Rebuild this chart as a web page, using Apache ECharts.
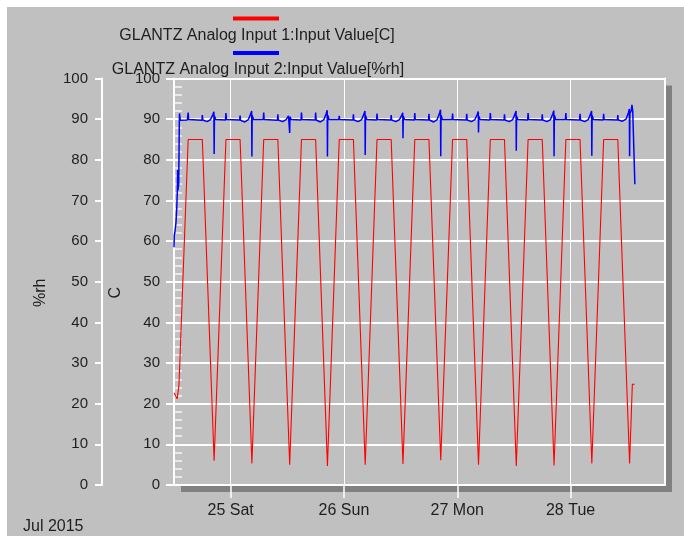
<!DOCTYPE html>
<html>
<head>
<meta charset="utf-8">
<script src="https://cdn.jsdelivr.net/npm/echarts@6/dist/echarts.min.js"></script>
<style>
  html, body { margin: 0; padding: 0; background: #ffffff; }
  #bg { position: absolute; left: 7px; top: 7px; width: 677px; height: 529px; background: #c0c0c0; }
  #chart { position: absolute; left: 0; top: 0; width: 684px; height: 536px; }
</style>
</head>
<body>
<div id="bg"></div>
<div id="chart"></div>
<script>
// ---------------- DATA ----------------
const seriesNames = [
  'GLANTZ Analog Input 1:Input Value[C]',
  'GLANTZ Analog Input 2:Input Value[%rh]'
];
const timeBase = '2015-07-24 00:00';
const xRange = ['2015-07-24 12:00', '2015-07-28 20:00'];
const dayTicks = ['2015-07-25 00:00', '2015-07-26 00:00', '2015-07-27 00:00', '2015-07-28 00:00'];
const dayLabels = ['25 Sat', '26 Sun', '27 Mon', '28 Tue'];
const monthLabel = 'Jul 2015';
const yTicks = [0, 10, 20, 30, 40, 50, 60, 70, 80, 90, 100];

// Input 1 (C), red
const redSeries = [
  ['2015-07-24 12:00', 22.7], ['2015-07-24 12:40', 21.2], ['2015-07-24 13:03', 24.5],
  ['2015-07-24 15:00', 85], ['2015-07-24 18:00', 85], ['2015-07-24 20:30', 6.0],
  ['2015-07-24 23:00', 85], ['2015-07-25 02:00', 85], ['2015-07-25 04:30', 5.3],
  ['2015-07-25 07:00', 85], ['2015-07-25 10:00', 85], ['2015-07-25 12:30', 5.0],
  ['2015-07-25 15:00', 85], ['2015-07-25 18:00', 85], ['2015-07-25 20:30', 4.7],
  ['2015-07-25 23:00', 85], ['2015-07-26 02:00', 85], ['2015-07-26 04:30', 5.0],
  ['2015-07-26 07:00', 85], ['2015-07-26 10:00', 85], ['2015-07-26 12:30', 5.2],
  ['2015-07-26 15:00', 85], ['2015-07-26 18:00', 85], ['2015-07-26 20:30', 6.1],
  ['2015-07-26 23:00', 85], ['2015-07-27 02:00', 85], ['2015-07-27 04:30', 5.0],
  ['2015-07-27 07:00', 85], ['2015-07-27 10:00', 85], ['2015-07-27 12:30', 4.7],
  ['2015-07-27 15:00', 85], ['2015-07-27 18:00', 85], ['2015-07-27 20:30', 4.8],
  ['2015-07-27 23:00', 85], ['2015-07-28 02:00', 85], ['2015-07-28 04:30', 5.3],
  ['2015-07-28 07:00', 85], ['2015-07-28 10:00', 85], ['2015-07-28 12:30', 5.3],
  ['2015-07-28 13:05', 24.8], ['2015-07-28 13:35', 24.8]
];

// Input 2 (%rh), blue
const blueSeries = [
  ['2015-07-24 12:00', 58.5], ['2015-07-24 12:04', 61.5], ['2015-07-24 12:10', 62.0],
  ['2015-07-24 12:25', 64.5], ['2015-07-24 12:35', 68.0], ['2015-07-24 12:42', 72.0],
  ['2015-07-24 12:46', 77.5], ['2015-07-24 12:50', 72.5], ['2015-07-24 13:00', 74.0],
  ['2015-07-24 13:08', 90.0], ['2015-07-24 13:10', 91.4], ['2015-07-24 13:20', 89.7],
  ['2015-07-24 14:50', 89.8], ['2015-07-24 15:00', 91.6], ['2015-07-24 15:06', 89.9],
  ['2015-07-24 17:55', 89.7], ['2015-07-24 18:00', 91.0], ['2015-07-24 18:06', 89.8],
  ['2015-07-24 19:00', 89.4], ['2015-07-24 19:45', 89.9], ['2015-07-24 20:15', 91.2],
  ['2015-07-24 20:27', 91.8], ['2015-07-24 20:30', 81.4], ['2015-07-24 20:34', 90.8],
  ['2015-07-24 20:50', 89.9], ['2015-07-24 22:55', 89.8], ['2015-07-24 23:00', 91.5],
  ['2015-07-24 23:06', 89.9], ['2015-07-25 01:55', 89.8], ['2015-07-25 02:00', 90.9],
  ['2015-07-25 02:06', 89.7], ['2015-07-25 03:00', 89.3], ['2015-07-25 03:45', 89.9],
  ['2015-07-25 04:15', 91.3], ['2015-07-25 04:27', 92.0], ['2015-07-25 04:30', 80.8],
  ['2015-07-25 04:34', 90.9], ['2015-07-25 04:50', 89.9], ['2015-07-25 06:55', 89.9],
  ['2015-07-25 07:00', 91.6], ['2015-07-25 07:06', 89.9], ['2015-07-25 09:55', 89.7],
  ['2015-07-25 10:00', 91.2], ['2015-07-25 10:06', 89.8], ['2015-07-25 11:00', 89.4],
  ['2015-07-25 11:45', 89.9], ['2015-07-25 12:15', 90.8], ['2015-07-25 12:27', 91.2],
  ['2015-07-25 12:30', 86.6], ['2015-07-25 12:34', 90.6], ['2015-07-25 12:50', 89.9],
  ['2015-07-25 14:55', 89.8], ['2015-07-25 15:00', 91.6], ['2015-07-25 15:06', 89.9],
  ['2015-07-25 17:55', 89.8], ['2015-07-25 18:00', 91.6], ['2015-07-25 18:06', 89.8],
  ['2015-07-25 19:00', 89.3], ['2015-07-25 19:45', 89.9], ['2015-07-25 20:15', 91.4],
  ['2015-07-25 20:27', 92.2], ['2015-07-25 20:30', 80.8], ['2015-07-25 20:34', 91.0],
  ['2015-07-25 20:50', 89.9], ['2015-07-25 22:55', 89.9], ['2015-07-25 23:00', 90.8],
  ['2015-07-25 23:06', 89.9], ['2015-07-26 01:55', 89.8], ['2015-07-26 02:00', 91.2],
  ['2015-07-26 02:06', 89.8], ['2015-07-26 03:00', 89.4], ['2015-07-26 03:45', 89.9],
  ['2015-07-26 04:15', 91.3], ['2015-07-26 04:27', 92.0], ['2015-07-26 04:30', 81.2],
  ['2015-07-26 04:34', 90.9], ['2015-07-26 04:50', 89.9], ['2015-07-26 06:55', 89.8],
  ['2015-07-26 07:00', 91.4], ['2015-07-26 07:06', 89.9], ['2015-07-26 09:55', 89.8],
  ['2015-07-26 10:00', 91.0], ['2015-07-26 10:06', 89.8], ['2015-07-26 11:00', 89.4],
  ['2015-07-26 11:45', 89.9], ['2015-07-26 12:15', 91.0], ['2015-07-26 12:27', 91.6],
  ['2015-07-26 12:30', 85.3], ['2015-07-26 12:34', 90.7], ['2015-07-26 12:50', 89.9],
  ['2015-07-26 14:55', 89.8], ['2015-07-26 15:00', 91.5], ['2015-07-26 15:06', 89.9],
  ['2015-07-26 17:55', 89.8], ['2015-07-26 18:00', 91.3], ['2015-07-26 18:06', 89.8],
  ['2015-07-26 19:00', 89.3], ['2015-07-26 19:45', 89.9], ['2015-07-26 20:15', 91.5],
  ['2015-07-26 20:27', 92.3], ['2015-07-26 20:30', 80.9], ['2015-07-26 20:34', 91.0],
  ['2015-07-26 20:50', 89.9], ['2015-07-26 22:55', 89.9], ['2015-07-26 23:00', 91.4],
  ['2015-07-26 23:06', 89.9], ['2015-07-27 01:55', 89.8], ['2015-07-27 02:00', 91.3],
  ['2015-07-27 02:06', 89.8], ['2015-07-27 03:00', 89.4], ['2015-07-27 03:45', 89.9],
  ['2015-07-27 04:15', 91.2], ['2015-07-27 04:27', 91.9], ['2015-07-27 04:30', 86.7],
  ['2015-07-27 04:34', 90.7], ['2015-07-27 04:50', 89.9], ['2015-07-27 06:55', 89.8],
  ['2015-07-27 07:00', 91.5], ['2015-07-27 07:06', 89.9], ['2015-07-27 09:55', 89.8],
  ['2015-07-27 10:00', 91.2], ['2015-07-27 10:06', 89.8], ['2015-07-27 11:00', 89.4],
  ['2015-07-27 11:45', 89.9], ['2015-07-27 12:15', 91.3], ['2015-07-27 12:27', 92.0],
  ['2015-07-27 12:30', 82.2], ['2015-07-27 12:34', 90.8], ['2015-07-27 12:50', 89.9],
  ['2015-07-27 14:55', 89.8], ['2015-07-27 15:00', 91.5], ['2015-07-27 15:06', 89.9],
  ['2015-07-27 17:55', 89.8], ['2015-07-27 18:00', 91.2], ['2015-07-27 18:06', 89.8],
  ['2015-07-27 19:00', 89.4], ['2015-07-27 19:45', 89.9], ['2015-07-27 20:15', 91.4],
  ['2015-07-27 20:27', 92.1], ['2015-07-27 20:30', 80.9], ['2015-07-27 20:34', 91.0],
  ['2015-07-27 20:50', 89.9], ['2015-07-27 22:55', 89.9], ['2015-07-27 23:00', 91.5],
  ['2015-07-27 23:06', 89.9], ['2015-07-28 01:55', 89.8], ['2015-07-28 02:00', 91.3],
  ['2015-07-28 02:06', 89.8], ['2015-07-28 03:00', 89.4], ['2015-07-28 03:45', 89.9],
  ['2015-07-28 04:15', 91.3], ['2015-07-28 04:27', 92.0], ['2015-07-28 04:30', 81.0],
  ['2015-07-28 04:34', 90.9], ['2015-07-28 04:50', 89.9], ['2015-07-28 06:55', 89.8],
  ['2015-07-28 07:00', 91.3], ['2015-07-28 07:06', 89.9], ['2015-07-28 09:55', 89.8],
  ['2015-07-28 10:00', 91.0], ['2015-07-28 10:06', 89.8], ['2015-07-28 11:00', 89.5],
  ['2015-07-28 11:45', 90.0], ['2015-07-28 12:15', 91.6], ['2015-07-28 12:27', 92.5],
  ['2015-07-28 12:30', 80.9], ['2015-07-28 12:34', 91.5], ['2015-07-28 12:50', 92.0],
  ['2015-07-28 13:00', 93.5], ['2015-07-28 13:10', 92.0], ['2015-07-28 13:37', 74.0]
];

// ---------------- HELPERS ----------------
// Convert a 'YYYY-MM-DD HH:mm' stamp into hours elapsed since timeBase (x value on a linear axis).
function toDate(s) {
  const m = s.match(/(\d+)-(\d+)-(\d+) (\d+):(\d+)/);
  return Date.UTC(+m[1], +m[2] - 1, +m[3], +m[4], +m[5]);
}
const BASE = toDate(timeBase);
const toHours = s => (toDate(s) - BASE) / 3600000;
const toPoints = arr => arr.map(p => [toHours(p[0]), p[1]]);
const dayTickValues = dayTicks.map(toHours);
const X_MIN = toHours(xRange[0]);
const X_MAX = toHours(xRange[1]);
const Y_MIN = yTicks[0];
const Y_MAX = yTicks[yTicks.length - 1];

const FONT = '"Liberation Sans", Arial, Helvetica, sans-serif';
const TXT = '#1e1e1e';
const WHITE = '#ffffff';
const hidden = { axisTick: { show: false }, axisLabel: { show: false }, splitLine: { show: false } };

const chart = echarts.init(document.getElementById('chart'), null, { renderer: 'canvas' });

const option = {
  backgroundColor: 'transparent',
  animation: false,
  textStyle: { fontFamily: FONT },
  grid: {
    left: 174, right: 19, top: 78.5, bottom: 51,
    show: true,
    backgroundColor: '#c0c0c0',
    borderWidth: 0,
    borderColor: 'transparent',
    shadowColor: '#808080',
    shadowBlur: 0,
    shadowOffsetX: 7,
    shadowOffsetY: 7,
    containLabel: false
  },
  legend: [
    {
      data: [{ name: seriesNames[0], icon: 'rect' }],
      left: 233, top: 16.5, padding: 0,
      itemWidth: 46, itemHeight: 4,
      selectedMode: false,
      formatter: function () { return ''; }
    },
    {
      data: [{ name: seriesNames[1], icon: 'rect' }],
      left: 233, top: 51, padding: 0,
      itemWidth: 46, itemHeight: 4,
      selectedMode: false,
      formatter: function () { return ''; }
    }
  ],
  graphic: [
    { type: 'text', x: 257, y: 36, silent: true,
      style: { text: seriesNames[0], fontSize: 16, fontFamily: FONT, fill: TXT, align: 'center', verticalAlign: 'middle' } },
    { type: 'text', x: 258, y: 70, silent: true,
      style: { text: seriesNames[1], fontSize: 16, fontFamily: FONT, fill: TXT, align: 'center', verticalAlign: 'middle' } },
    { type: 'text', x: 23, y: 527, silent: true,
      style: { text: monthLabel, fontSize: 16, fontFamily: FONT, fill: TXT, align: 'left', verticalAlign: 'middle' } }
  ],
  xAxis: [
    {
      type: 'value', position: 'bottom',
      min: X_MIN, max: X_MAX,
      axisLine: { show: true, lineStyle: { color: WHITE, width: 2 } },
      axisTick: { show: true, customValues: dayTickValues, length: 13, lineStyle: { color: WHITE, width: 1.5 } },
      axisLabel: {
        customValues: dayTickValues,
        margin: 18,
        fontSize: 16,
        fontFamily: FONT,
        color: TXT,
        formatter: function (v) {
          const i = dayTickValues.indexOf(v);
          return i >= 0 ? dayLabels[i] : '';
        }
      },
      splitLine: { show: true, lineStyle: { color: WHITE, width: 1 } }
    },
    Object.assign({
      type: 'value', position: 'top', min: X_MIN, max: X_MAX,
      axisLine: { show: true, onZero: false, lineStyle: { color: WHITE, width: 2 } }
    }, hidden)
  ],
  yAxis: [
    {
      type: 'value', position: 'left', offset: 0,
      min: Y_MIN, max: Y_MAX, interval: 10,
      name: 'C', nameLocation: 'middle', nameRotate: 90, nameGap: 47,
      nameTextStyle: { fontSize: 16, fontFamily: FONT, color: TXT, padding: [0, 22, 0, 0] },
      axisLine: { show: true, onZero: false, lineStyle: { color: WHITE, width: 2 } },
      axisTick: { show: true, inside: false, length: 8, lineStyle: { color: WHITE, width: 2 } },
      axisLabel: { margin: 14, fontSize: 15, fontFamily: FONT, color: TXT },
      splitLine: { show: true, lineStyle: { color: WHITE, width: 2 } }
    },
    {
      type: 'value', position: 'left', offset: 72,
      min: Y_MIN, max: Y_MAX, interval: 10,
      name: '%rh', nameLocation: 'middle', nameRotate: 90, nameGap: 53,
      nameTextStyle: { fontSize: 16, fontFamily: FONT, color: TXT, padding: [0, 22, 0, 0] },
      axisLine: { show: true, onZero: false, lineStyle: { color: WHITE, width: 2 } },
      axisTick: { show: true, inside: false, length: 7, lineStyle: { color: WHITE, width: 2 } },
      axisLabel: { margin: 14, fontSize: 15, fontFamily: FONT, color: TXT },
      splitLine: { show: false }
    },
    {
      type: 'value', position: 'left', offset: 0,
      min: Y_MIN, max: Y_MAX, interval: 2,
      axisLine: { show: false },
      axisTick: { show: true, inside: true, length: 8, lineStyle: { color: 'rgba(255,255,255,0.85)', width: 1.5 } },
      axisLabel: { show: false },
      splitLine: { show: false }
    },
    Object.assign({
      type: 'value', position: 'right', offset: 0, min: Y_MIN, max: Y_MAX,
      axisLine: { show: true, onZero: false, lineStyle: { color: WHITE, width: 2 } }
    }, hidden)
  ],
  series: [
    {
      name: seriesNames[0], type: 'line', yAxisIndex: 0,
      data: toPoints(redSeries),
      showSymbol: false, symbol: 'none',
      color: '#ff0000',
      lineStyle: { color: '#ff0000', width: 1.1 },
      itemStyle: { color: '#ff0000' },
      z: 2
    },
    {
      name: seriesNames[1], type: 'line', yAxisIndex: 1,
      data: toPoints(blueSeries),
      showSymbol: false, symbol: 'none',
      color: '#0000ff',
      lineStyle: { color: '#0000ff', width: 1.5 },
      itemStyle: { color: '#0000ff' },
      z: 3
    }
  ]
};

chart.setOption(option);
</script>
</body>
</html>
